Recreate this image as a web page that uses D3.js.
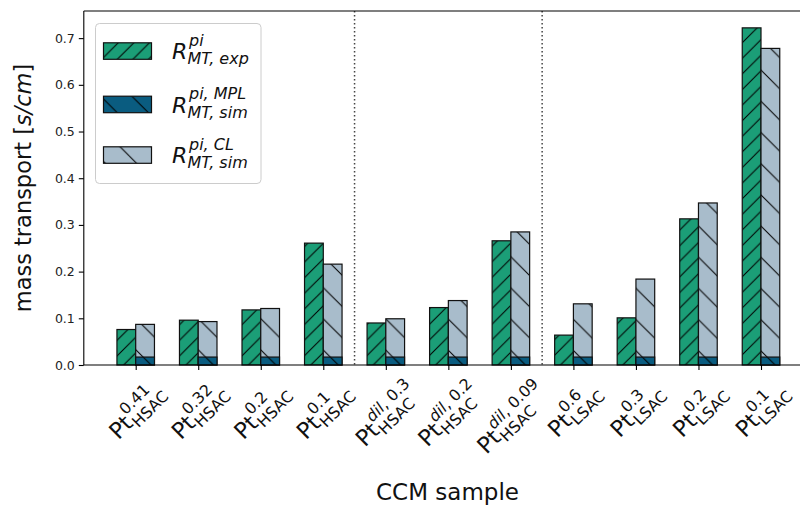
<!DOCTYPE html>
<html>
<head>
<meta charset="utf-8">
<script src="https://cdn.jsdelivr.net/npm/d3@7"></script>
<style>
  html, body { margin: 0; padding: 0; background: #fff; }
  svg { display: block; font-family: "DejaVu Sans", sans-serif; }
</style>
</head>
<body>
<svg id="chart" width="800" height="505"></svg>
<script>
// ---------------- data ----------------
const tickSup = ["0.41", "0.32", "0.2", "0.1", "dil, 0.3", "dil, 0.2", "dil, 0.09", "0.6", "0.3", "0.2", "0.1"];
const tickSub = ["HSAC", "HSAC", "HSAC", "HSAC", "HSAC", "HSAC", "HSAC", "LSAC", "LSAC", "LSAC", "LSAC"];
const expValues = [0.076, 0.096, 0.118, 0.261, 0.090, 0.123, 0.266, 0.064, 0.101, 0.313, 0.722];
const clSimValues = [0.087, 0.093, 0.121, 0.216, 0.099, 0.138, 0.285, 0.131, 0.184, 0.347, 0.678];
const mplSimValues = [0.017, 0.017, 0.017, 0.017, 0.017, 0.017, 0.017, 0.017, 0.017, 0.017, 0.017];
const yTicks = [0.0, 0.1, 0.2, 0.3, 0.4, 0.5, 0.6, 0.7];
const separators = [3.5, 6.5];
const legendSup = ["pi", "pi, MPL", "pi, CL"];
const legendSub = ["MT, exp", "MT, sim", "MT, sim"];

// ---------------- style ----------------
const cGreen = "#1b9e77", cDark = "#0a5c80", cLight = "#a8bccb";
const barW = 0.3;

const svg = d3.select("#chart");
const x = d3.scaleLinear().domain([-0.83, 10.83]).range([83.8, 812.9]);
const y = d3.scaleLinear().domain([0, 0.7581]).range([365, 11]);

// hatch patterns
const defs = svg.append("defs");
function fwdHatch(id, color, P, ox) {
  const p = defs.append("pattern").attr("id", id).attr("patternUnits", "userSpaceOnUse")
    .attr("width", P).attr("height", P).attr("x", ox).attr("y", 0);
  p.append("rect").attr("width", P).attr("height", P).attr("fill", color);
  const l = [[0, P, P, 0], [-P, P, 0, 0], [P, P, 2 * P, 0], [0, 2*P, P, P], [0, 0, P, -P]];
  l.forEach(a => p.append("line").attr("x1", a[0]).attr("y1", a[1]).attr("x2", a[2]).attr("y2", a[3])
    .attr("stroke", "#000").attr("stroke-width", 1));
}
function backHatch(id, color, P, ox) {
  const p = defs.append("pattern").attr("id", id).attr("patternUnits", "userSpaceOnUse")
    .attr("width", P).attr("height", P).attr("x", ox).attr("y", 0);
  p.append("rect").attr("width", P).attr("height", P).attr("fill", color);
  const l = [[0, 0, P, P], [-P, 0, 0, P], [P, 0, 2 * P, P], [0, -P, P, 0], [0, P, P, 2*P]];
  l.forEach(a => p.append("line").attr("x1", a[0]).attr("y1", a[1]).attr("x2", a[2]).attr("y2", a[3])
    .attr("stroke", "#000").attr("stroke-width", 1));
}
fwdHatch("hGreen", cGreen, 15.6, 5);
backHatch("hDark", cDark, 31.2, 4.5);
backHatch("hLight", cLight, 31.2, 4.5);

// separators (dotted)
svg.append("g").selectAll("line").data(separators).join("line")
  .attr("x1", d => x(d)).attr("x2", d => x(d)).attr("y1", y.range()[1]).attr("y2", y.range()[0])
  .attr("stroke", "#444").attr("stroke-width", 1.5).attr("stroke-dasharray", "1.5,2.5");

// bars
const bars = svg.append("g").attr("stroke", "#111").attr("stroke-width", 1.2);
bars.selectAll("rect.exp").data(expValues).join("rect").attr("class", "exp")
  .attr("x", (d, i) => x(i - barW)).attr("width", (d, i) => x(i) - x(i - barW))
  .attr("y", d => y(d)).attr("height", d => y(0) - y(d)).attr("fill", "url(#hGreen)");
bars.selectAll("rect.cl").data(clSimValues).join("rect").attr("class", "cl")
  .attr("x", (d, i) => x(i)).attr("width", (d, i) => x(i + barW) - x(i))
  .attr("y", d => y(d)).attr("height", d => y(0) - y(d)).attr("fill", "url(#hLight)");
bars.selectAll("rect.mpl").data(mplSimValues).join("rect").attr("class", "mpl")
  .attr("x", (d, i) => x(i)).attr("width", (d, i) => x(i + barW) - x(i))
  .attr("y", d => y(d)).attr("height", d => y(0) - y(d)).attr("fill", "url(#hDark)");

// spines
const sp = svg.append("g").attr("stroke", "#000").attr("stroke-width", 1.1).attr("fill", "none");
sp.append("line").attr("x1", x.range()[0]).attr("x2", 800).attr("y1", y(0)).attr("y2", y(0));
sp.append("line").attr("x1", x.range()[0]).attr("x2", 800).attr("y1", y.range()[1]).attr("y2", y.range()[1]);
sp.append("line").attr("x1", x.range()[0]).attr("x2", x.range()[0]).attr("y1", y.range()[1]).attr("y2", y(0));

// y axis
const yAxis = d3.axisLeft(y).tickValues(yTicks).tickFormat(d3.format(".1f")).tickSize(5).tickPadding(4);
const gy = svg.append("g").attr("transform", `translate(${x.range()[0]},0)`).call(yAxis);
gy.select(".domain").remove();
gy.selectAll("line").attr("stroke", "#000").attr("stroke-width", 1.1);
gy.selectAll("text").attr("font-size", 12.5).attr("font-family", "DejaVu Sans").attr("fill", "#222");

// x axis ticks
const idx = d3.range(tickSup.length);
const xAxis = d3.axisBottom(x).tickValues(idx).tickFormat("").tickSize(5);
const gx = svg.append("g").attr("transform", `translate(0,${y(0)})`).call(xAxis);
gx.select(".domain").remove();
gx.selectAll("line").attr("stroke", "#000").attr("stroke-width", 1.1);

// x tick labels (rotated mathtext-like)
const s2 = Math.SQRT1_2;
idx.forEach(i => {
  const outer = svg.append("g");
  const inner = outer.append("g").attr("transform", "rotate(-45)");
  const t = inner.append("text").attr("font-size", 22.5).attr("fill", "#111").text("Pt");
  const w = t.node().getComputedTextLength();
  const sup = inner.append("text").attr("x", w + 0.5).attr("y", -12.5).attr("font-size", 15.8).attr("fill", "#111");
  const s = tickSup[i];
  if (s.startsWith("dil")) {
    sup.append("tspan").attr("font-style", "italic").text("dil");
    sup.append("tspan").text(s.slice(3));
  } else sup.text(s);
  inner.append("text").attr("x", w + 0.5).attr("y", 5.5).attr("font-size", 15.8).attr("fill", "#111").text(tickSub[i]);
  const bb = inner.node().getBBox();
  const cs = [[bb.x, bb.y], [bb.x + bb.width, bb.y], [bb.x, bb.y + bb.height], [bb.x + bb.width, bb.y + bb.height]]
    .map(([u, v]) => [(u + v) * s2, (v - u) * s2]);
  const minX = d3.min(cs, c => c[0]), maxX = d3.max(cs, c => c[0]), minY = d3.min(cs, c => c[1]);
  outer.attr("transform", `translate(${x(i) - (minX + maxX) / 2},${y(0) + 9 - minY})`);
});

// axis titles
svg.append("text").attr("x", 447.5).attr("y", 499.5).attr("text-anchor", "middle")
  .attr("font-size", 23).attr("fill", "#111").text("CCM sample");
const yl = svg.append("text").attr("transform", `translate(31,188) rotate(-90)`).attr("text-anchor", "middle")
  .attr("font-size", 22.5).attr("fill", "#111");
yl.append("tspan").text("mass transport [");
yl.append("tspan").attr("font-style", "italic").text("s/cm");
yl.append("tspan").text("]");

// legend
const lg = svg.append("g");
lg.append("rect").attr("x", 95.5).attr("y", 23.5).attr("width", 165.5).attr("height", 160).attr("rx", 4)
  .attr("fill", "#fff").attr("fill-opacity", 0.8).attr("stroke", "#ccc").attr("stroke-width", 1);
const legFills = ["url(#hGreen)", "url(#hDark)", "url(#hLight)"];
const legBase = [59.3, 112.7, 163.3];
legFills.forEach((f, k) => {
  lg.append("rect").attr("x", 103.5).attr("y", legBase[k] - 16.5).attr("width", 48).attr("height", 16.5)
    .attr("fill", f).attr("stroke", "#111").attr("stroke-width", 1.2);
  lg.append("text").attr("x", 172).attr("y", legBase[k]).attr("font-size", 22).attr("font-style", "italic")
    .attr("fill", "#111").text("R");
  lg.append("text").attr("x", 189).attr("y", legBase[k] - 13.3).attr("font-size", 16).attr("font-style", "italic")
    .attr("fill", "#111").text(legendSup[k]);
  lg.append("text").attr("x", 187.5).attr("y", legBase[k] + 5).attr("font-size", 16).attr("font-style", "italic")
    .attr("fill", "#111").text(legendSub[k]);
});
</script>
</body>
</html>
